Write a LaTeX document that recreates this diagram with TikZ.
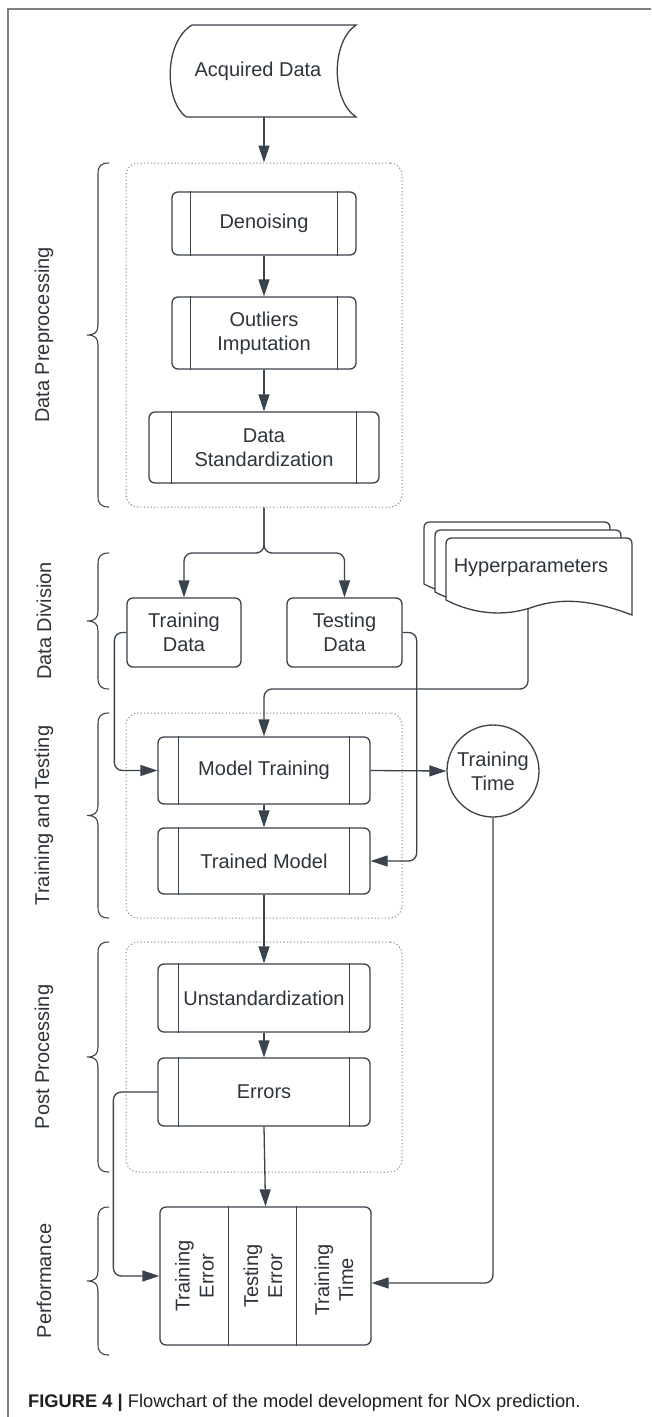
\documentclass[tikz,border=0pt]{standalone}
\usepackage{fontspec}
\setmainfont{Liberation Sans}
\usetikzlibrary{arrows.meta,calc}
\definecolor{lc}{HTML}{3A424C}
\definecolor{tc}{HTML}{2E343C}
\definecolor{dc}{HTML}{8C8C8C}
\definecolor{fc}{HTML}{7F7F7F}
\newcommand\mybrace[2]{%
  \pgfmathsetmacro\bm{(#1+#2)/2}%
  \draw[brc] (109,#1) .. controls (101,#1) and (98,#1+3) .. (98,#1+11) -- (98,\bm-10)
    .. controls (98,\bm-3) and (95,\bm) .. (87,\bm) .. controls (95,\bm) and (98,\bm+3) .. (98,\bm+10)
    -- (98,#2-11) .. controls (98,#2-3) and (101,#2) .. (109,#2);}
\newcommand\docsheet[2]{%
  \draw[lc, line width=1.3pt, fill=white, shift={(#1,#2)}] (446,600) -- (446,544)
    .. controls (446,540) and (448,538) .. (452,538) -- (626,538)
    .. controls (630,538) and (632,540) .. (632,544) -- (632,615)
    .. controls (585,597) and (555,599) .. (530,608)
    .. controls (505,616) and (475,615) .. (446,600) -- cycle;}
\begin{document}
\begin{tikzpicture}[x=1pt,y=-1pt,
  every node/.style={font=\fontsize{20}{24}\selectfont, text=tc},
  sz/.style 2 args={minimum width=#1, minimum height=#2},
  proc/.style={draw=lc, line width=1.3pt, rounded corners=6pt, fill=white, align=center, inner sep=0pt},
  grp/.style={draw=dc, line width=1pt, dash pattern=on 1.2pt off 2.2pt, rounded corners=12pt, inner sep=0pt},
  arr/.style={draw=lc, line width=1.3pt, rounded corners=8pt, -{Triangle[length=17pt,width=11pt]}},
  conn/.style={draw=lc, line width=1.3pt, rounded corners=8pt},
  brc/.style={draw=lc, line width=1.1pt},
  lab/.style={rotate=90, anchor=center, align=center, inner sep=0pt}
]
\useasboundingbox (0,0) rectangle (651,1417);
\fill[white] (0,0) rectangle (651,1417);
\draw[fc, line width=1.5pt] (8,1417) -- (8,9) -- (651,9);

% groups
\node[grp, sz={276pt}{344pt}] (pre) at (264,335) {};
\node[grp, sz={276pt}{205pt}] (ttg) at (264,815.5) {};
\node[grp, sz={276pt}{230pt}] (post) at (264,1057) {};

% braces and labels
\mybrace{163}{507}
\mybrace{553}{689}
\mybrace{713}{918}
\mybrace{942}{1172}
\mybrace{1207}{1355}
\node[lab] (lpre) at (44,335) {Data Preprocessing};
\node[lab] (ldiv) at (44,621) {Data Division};
\node[lab] (ltt) at (44,815.5) {Training and Testing};
\node[lab] (lpost) at (44,1057) {Post Processing};
\node[lab] (lperf) at (44,1281) {Performance};

% acquired data
\draw[lc, line width=1.3pt, fill=white] (192,25) -- (356,25)
  .. controls (331,42) and (331,100) .. (356,117) -- (186,117)
  .. controls (164,100) and (164,42) .. (192,25) -- cycle;
\node[sz={184pt}{92pt}, inner sep=0pt] (acq) at (264,71) {\hspace*{-12pt}Acquired Data};

% preprocessing
\node[proc, sz={184pt}{63pt}] (den) at (264,223.5) {Denoising};
\node[proc, sz={184pt}{72pt}] (out) at (264,333) {Outliers\\Imputation};
\node[proc, sz={230pt}{71pt}] (std) at (264,447.5) {Data\\Standardization};

% division
\node[proc, sz={114pt}{69pt}] (trd) at (184,632.5) {Training\\Data};
\node[proc, sz={115pt}{69pt}] (ted) at (344.5,632.5) {Testing\\Data};

% hyperparameters
\docsheet{-22}{-16}
\docsheet{-11}{-8}
\docsheet{0}{0}
\node (hyp) at (531,568) {Hyperparameters};
\coordinate (hb) at (528,609);
\coordinate (hturn) at (264,689);
\coordinate (split) at (264,553);

% training and testing
\node[proc, sz={212pt}{67pt}] (mtr) at (264,770.5) {Model Training};
\node[proc, sz={212pt}{66pt}] (tm) at (264,861) {Trained Model};
\node[draw=lc, line width=1.3pt, circle, minimum size=92pt, inner sep=0pt, align=center, fill=white] (tt) at (493,771) {Training\\Time};

% post processing
\node[proc, sz={212pt}{68pt}] (uns) at (264,998) {Unstandardization};
\node[proc, sz={212pt}{68pt}] (err) at (264,1092) {Errors};

% performance
\node[proc, sz={211pt}{138pt}] (perf) at (265.5,1276) {};
\draw[lc, line width=1.3pt] ([xshift=69pt]perf.north west) -- ([xshift=69pt]perf.south west)
  ([xshift=137pt]perf.north west) -- ([xshift=137pt]perf.south west);
\node[lab] (pe1) at (194.5,1276) {Training\\Error};
\node[lab] (pe2) at (263,1276) {Testing\\Error};
\node[lab] (pe3) at (334,1280) {Training\\Time};

% side bars
\foreach \n/\o in {den/19,out/19,std/23,mtr/21,tm/21,uns/21,err/21}
  \draw[lc, line width=1.3pt] ([xshift=\o pt]\n.north west) -- ([xshift=\o pt]\n.south west)
    ([xshift=-\o pt]\n.north east) -- ([xshift=-\o pt]\n.south east);

% connectors
\draw[arr] (acq.south) -- (pre.north);
\draw[arr] (den.south) -- (out.north);
\draw[arr] (out.south) -- (std.north);
\draw[arr] (pre.south) -- (split) -| (trd.north);
\draw[arr] (pre.south) -- (split) -| (ted.north);
\draw[arr] (hb) |- (hturn) -- (mtr.north);
\draw[arr] (trd.west) -- ++(-12,0) |- (mtr.west);
\draw[arr] (ted.east) -- ++(14,0) |- (tm.east);
\draw[arr] (mtr.east) -- (tt.west);
\draw[arr] (mtr.south) -- (tm.north);
\draw[arr] (tm.south) -- (uns.north);
\draw[arr] (uns.south) -- (err.north);
\draw[arr] (err.south) -- (perf.north);
\draw[arr] (err.west) -- ++(-44,0) |- (perf.west);
\draw[arr] (tt.south) |- ([yshift=-7pt]perf.east);

% caption
\node[anchor=base west, font=\fontsize{18.3}{21}\selectfont, text=black!88, inner sep=0pt] (cap) at (28,1407)
  {\textbf{FIGURE 4 |} Flowchart of the model development for NOx prediction.};
\end{tikzpicture}
\end{document}
